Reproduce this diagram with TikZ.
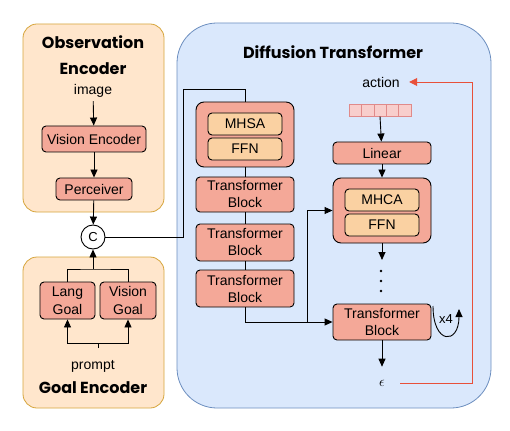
\documentclass[tikz,border=0pt]{standalone}
\usepackage{fontspec}
\setmainfont{Liberation Sans}
\newfontfamily\titlefont{Poppins}
\usepackage{tikz}
\usetikzlibrary{arrows.meta,positioning}

\definecolor{encfill}{HTML}{FFE6CC}
\definecolor{encline}{HTML}{D6A53C}
\definecolor{difffill}{HTML}{DAE8FC}
\definecolor{diffline}{HTML}{6C8EBF}
\definecolor{blkfill}{HTML}{F4A898}
\definecolor{subfill}{HTML}{FAD1A2}
\definecolor{tokfill}{HTML}{F8CECC}
\definecolor{tokline}{HTML}{E08A8A}
\definecolor{loopred}{HTML}{E8503A}

\begin{document}
\begin{tikzpicture}[
    x=1pt, y=-1pt,
    font=\fontsize{14}{17}\selectfont,
    encbg/.style={rectangle, draw=encline, fill=encfill, rounded corners=14pt, line width=0.8pt},
    diffbg/.style={rectangle, draw=diffline, fill=difffill, rounded corners=40pt, line width=0.8pt},
    blk/.style={rectangle, draw, fill=blkfill, rounded corners=4pt, line width=0.9pt, align=center, inner sep=0pt},
    sub/.style={blk, fill=subfill, minimum width=74pt, minimum height=22pt},
    tok/.style={rectangle, draw=tokline, fill=tokfill, minimum width=12.4pt, minimum height=12pt, inner sep=0pt, line width=0.6pt},
    title/.style={font=\titlefont\bfseries\fontsize{16}{26}\selectfont, align=center},
    arrow/.style={-{Triangle[length=8pt,width=7pt]}, line width=0.9pt},
    link/.style={line width=0.9pt},
    redarrow/.style={-{Triangle[length=8pt,width=8pt]}, line width=0.9pt, draw=loopred}
]
    \useasboundingbox (0,0) rectangle (510,430);

    % backgrounds
    \node[encbg, minimum width=141pt, minimum height=188pt] (obsbg) at (93.5,118) {};
    \node[encbg, minimum width=141pt, minimum height=151pt] (goalbg) at (93.5,332.5) {};
    \node[diffbg, minimum width=314pt, minimum height=385pt] (diffbg) at (334,215.5) {};

    % observation encoder
    \node[title] (obstitle) at (93,55) {Observation\\Encoder};
    \node (image) at (93,91) {image};
    \node[blk, minimum width=104pt, minimum height=26pt] (visenc) at (94,139) {Vision Encoder};
    \node[blk, minimum width=76pt, minimum height=22pt] (perc) at (94,189) {Perceiver};
    \node[circle, draw, fill=white, line width=0.9pt, minimum size=24pt, inner sep=0pt, font=\fontsize{13}{13}\selectfont] (cat) at (93,237) {C};

    % goal encoder
    \node[blk, minimum width=55pt, minimum height=37pt, font=\fontsize{14}{18}\selectfont] (lang) at (67.5,300.5) {Lang\\Goal};
    \node[blk, minimum width=56pt, minimum height=37pt, font=\fontsize{14}{18}\selectfont] (visgoal) at (128,300.5) {Vision\\Goal};
    \node (prompt) at (93,366) {prompt};
    \node[title] (goaltitle) at (93,388) {Goal Encoder};
    \coordinate (join) at (93,269);
    \coordinate (split) at (98,343);
    \coordinate (stem) at (98,348);

    % diffusion transformer
    \node[title] (difftitle) at (333,52) {Diffusion Transformer};
    \node[blk, rounded corners=8pt, minimum width=98pt, minimum height=65pt] (sablk) at (245,134.5) {};
    \node[sub] (mhsa) at (245,124) {MHSA};
    \node[sub] (ffna) at (245,149) {FFN};
    \node[blk, minimum width=98pt, minimum height=35pt] (tba) at (245,194.5) {Transformer\\Block};
    \node[blk, minimum width=98pt, minimum height=37pt] (tbb) at (245,242.5) {Transformer\\Block};
    \node[blk, minimum width=98pt, minimum height=37pt] (tbc) at (245,288.5) {Transformer\\Block};
    \coordinate (turn) at (183,89);
    \coordinate (branch) at (307,322);

    \node (action) at (381,82) {action};
    \foreach \i in {1,...,5}
        \node[tok] (tok\i) at (355.2+12.4*\i-12.4,110) {};
    \node[blk, minimum width=98pt, minimum height=22pt] (linear) at (382,153) {Linear};
    \node[blk, rounded corners=8pt, minimum width=98pt, minimum height=65pt] (cablk) at (382,210.5) {};
    \node[sub] (mhca) at (382,200) {MHCA};
    \node[sub] (ffnb) at (382,225) {FFN};
    \coordinate (dotstop) at (382,260);
    \foreach \y in {271,281,291}
        \fill (381,\y) circle (1.3pt);
    \node[blk, minimum width=98pt, minimum height=36pt] (tbn) at (382,322) {Transformer\\Block};
    \node[inner sep=1pt] (eps) at (382,383) {$\epsilon$};
    \node[font=\fontsize{13}{13}\selectfont] (times) at (446,319) {x4};
    \coordinate (loopa) at (433,306);
    \coordinate (loopb) at (459,309);
    \coordinate (redcorner) at (472,383);

    % observation / goal connectors
    \draw[arrow] (image) -- (visenc);
    \draw[arrow] (visenc) -- (perc);
    \draw[arrow] (perc) -- (cat);
    \draw[link] (lang.north) |- (join) -| (visgoal.north);
    \draw[arrow] (join) -- (cat.south);
    \draw[link] (stem) -- (split);
    \draw[arrow] (split) -| (lang.south);
    \draw[arrow] (split) -| (visgoal.south);

    % condition into the stack
    \draw[link] (cat.east) -| (turn) -| (sablk.north);
    \draw[link] (sablk) -- (tba);
    \draw[link] (tba) -- (tbb);
    \draw[link] (tbb) -- (tbc);
    \draw[arrow] (tbc.south) |- (tbn.west);
    \draw[arrow] (branch) |- (cablk.west);

    % denoising path
    \draw[arrow] (tok3.south) -- (linear);
    \draw[arrow] (linear) -- (cablk);
    \draw[arrow] (cablk.south) -- (dotstop);
    \draw[arrow] (tbn) -- (eps) [shorten >=12pt];
    \draw[arrow] (loopa) .. controls (433,345) and (459,345) .. (loopb);
    \draw[redarrow, shorten <=14pt, shorten >=6pt] (eps.east) -| (redcorner) |- (action.east);
\end{tikzpicture}
\end{document}
